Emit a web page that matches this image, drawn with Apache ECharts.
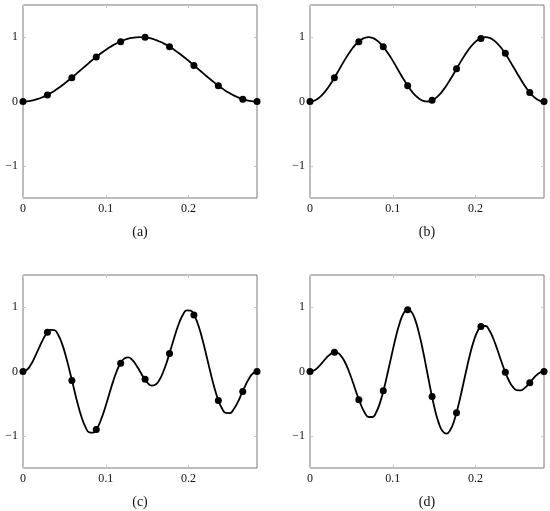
<!DOCTYPE html>
<html>
<head>
<meta charset="utf-8">
<script src="https://cdn.jsdelivr.net/npm/echarts@6/dist/echarts.min.js"></script>
<style>
html,body{margin:0;padding:0;background:#fff;}
#chart{width:550px;height:511px;}
</style>
</head>
<body>
<div id="chart"></div>
<script>
// ---- data ----
const captions = ['(a)', '(b)', '(c)', '(d)'];
const xTicks = [0, 0.1, 0.2];
const yTicks = [-1, 0, 1];
const xMax = 0.2827;
const yMin = -1.5, yMax = 1.5;

const curveX = [0, .0047, .0094, .0141, .0188, .0236, .0283, .0330, .0377, .0424, .0471, .0518, .0565, .0613, .0660, .0707, .0754, .0801, .0848, .0895, .0942, .0990, .1037, .1084, .1131, .1178, .1225, .1272, .1319, .1367, .1414, .1461, .1508, .1555, .1602, .1649, .1696, .1744, .1791, .1838, .1885, .1932, .1979, .2026, .2073, .2121, .2168, .2215, .2262, .2309, .2356, .2403, .2450, .2498, .2545, .2592, .2639, .2686, .2733, .2780, .2827];

const curveA = [0, .003, .011, .024, .043, .067, .095, .128, .165, .206, .25, .297, .345, .396, .448, .5, .552, .604, .655, .703, .75, .794, .835, .872, .905, .933, .957, .976, .989, .997, 1,
  .997, .989, .976, .957, .933, .905, .872, .835, .794, .75, .703, .655, .604, .552, .5, .448, .396, .345, .297, .25, .206, .165, .128, .095, .067, .043, .024, .011, .003, 0];

const curveB = [0, .011, .043, .095, .165, .25, .345, .448, .552, .655, .75, .835, .905, .957, .989, 1,
  .989, .957, .905, .835, .75, .655, .552, .448, .345, .25, .165, .095, .043, .011, 0,
  .011, .043, .095, .165, .25, .345, .448, .552, .655, .75, .835, .905, .957, .989, 1,
  .989, .957, .905, .835, .75, .655, .552, .448, .345, .25, .165, .095, .043, .011, 0];

const curveC = [0, .027, .104, .219, .352, .483, .588, .646, .644, .572, .433, .236, 0,
  -.253, -.497, -.707, -.861, -.945, -.951, -.882, -.75, -.572, -.372, -.173, 0,
  .129, .203, .219, .180, .101, 0, -.101, -.180, -.219, -.203, -.129, 0,
  .173, .372, .572, .75, .882, .951, .945, .861, .707, .497, .253, 0,
  -.236, -.433, -.572, -.644, -.646, -.588, -.483, -.352, -.219, -.104, -.027, 0];

const curveD = [0, .016, .061, .127, .198, .259, .294, .290, .239, .140, 0,
  -.168, -.345, -.509, -.636, -.707, -.707, -.629, -.476, -.259, 0,
  .275, .537, .755, .905, .966, .930, .799, .585, .309, 0,
  -.309, -.585, -.799, -.930, -.966, -.905, -.755, -.537, -.275, 0,
  .259, .476, .629, .707, .707, .636, .509, .345, .168, 0,
  -.140, -.239, -.290, -.294, -.259, -.198, -.127, -.061, -.016, 0];

const markX = [0, 0.0295, 0.059, 0.0885, 0.118, 0.1475, 0.177, 0.2065, 0.236, 0.2655, 0.2827];
const markA = [0, 0.10, 0.37, 0.69, 0.93, 1.0, 0.85, 0.56, 0.245, 0.036, 0];
const markB = [0, 0.37, 0.93, 0.85, 0.245, 0.02, 0.51, 0.98, 0.75, 0.14, 0];
const markC = [0, 0.61, -0.14, -0.90, 0.13, -0.12, 0.28, 0.88, -0.45, -0.31, 0];
const markD = [0, 0.30, -0.44, -0.30, 0.96, -0.39, -0.64, 0.70, -0.01, -0.175, 0];

const curves = [curveA, curveB, curveC, curveD];
const marks = [markA, markB, markC, markD];

// ---- layout ----
const FONT = '"Liberation Serif", "DejaVu Serif", serif';
const grids = [
  {left: 23, top: 5, width: 234, height: 193},
  {left: 310, top: 5, width: 234, height: 193},
  {left: 23, top: 275, width: 234, height: 193},
  {left: 310, top: 275, width: 234, height: 193}
];
const captionPos = [[140, 232], [427, 232], [140, 502], [427, 502]];

const fmt = v => String(v).replace('-', '\u2212');
const tickStyle = {color: '#c8c8c8', width: 1};
const noLine = {show: false, onZero: false};

const xAxes = [], yAxes = [], series = [], graphics = [];
grids.forEach((g, i) => {
  xAxes.push({
    gridIndex: i, type: 'value', min: 0, max: xMax, position: 'bottom',
    axisLine: noLine, splitLine: {show: false},
    axisTick: {inside: true, length: 3, customValues: xTicks, lineStyle: tickStyle},
    axisLabel: {customValues: xTicks, margin: 5, fontFamily: FONT, fontSize: 12, color: '#111', formatter: fmt}
  });
  xAxes.push({
    gridIndex: i, type: 'value', min: 0, max: xMax, position: 'top',
    axisLine: noLine, splitLine: {show: false},
    axisTick: {inside: true, length: 3, customValues: xTicks, lineStyle: tickStyle},
    axisLabel: {show: false}
  });
  yAxes.push({
    gridIndex: i, type: 'value', min: yMin, max: yMax, position: 'left',
    axisLine: noLine, splitLine: {show: false},
    axisTick: {inside: true, length: 3, customValues: yTicks, lineStyle: tickStyle},
    axisLabel: {customValues: yTicks, margin: 5, fontFamily: FONT, fontSize: 12, color: '#111', formatter: fmt}
  });
  yAxes.push({
    gridIndex: i, type: 'value', min: yMin, max: yMax, position: 'right',
    axisLine: noLine, splitLine: {show: false},
    axisTick: {inside: true, length: 3, customValues: yTicks, lineStyle: tickStyle},
    axisLabel: {show: false}
  });
  series.push({
    type: 'line', xAxisIndex: 2 * i, yAxisIndex: 2 * i, smooth: true, symbol: 'none',
    lineStyle: {color: '#000', width: 1.8},
    data: curveX.map((x, k) => [x, curves[i][k]]), z: 2
  });
  series.push({
    type: 'scatter', xAxisIndex: 2 * i, yAxisIndex: 2 * i, symbol: 'circle', symbolSize: 7,
    itemStyle: {color: '#000', opacity: 1},
    data: markX.map((x, k) => [x, marks[i][k]]), z: 3
  });
  graphics.push({
    type: 'text', x: captionPos[i][0], y: captionPos[i][1],
    style: {text: captions[i], textAlign: 'center', textVerticalAlign: 'middle', font: '14px ' + FONT, fill: '#111'}
  });
});

const chart = echarts.init(document.getElementById('chart'), null, {renderer: 'canvas'});
chart.setOption({
  animation: false,
  backgroundColor: '#fff',
  grid: grids.map(g => Object.assign({show: true, borderColor: '#7a7a7a', borderWidth: 1, backgroundColor: 'transparent'}, g)),
  xAxis: xAxes,
  yAxis: yAxes,
  series: series,
  graphic: graphics
});
</script>
</body>
</html>
